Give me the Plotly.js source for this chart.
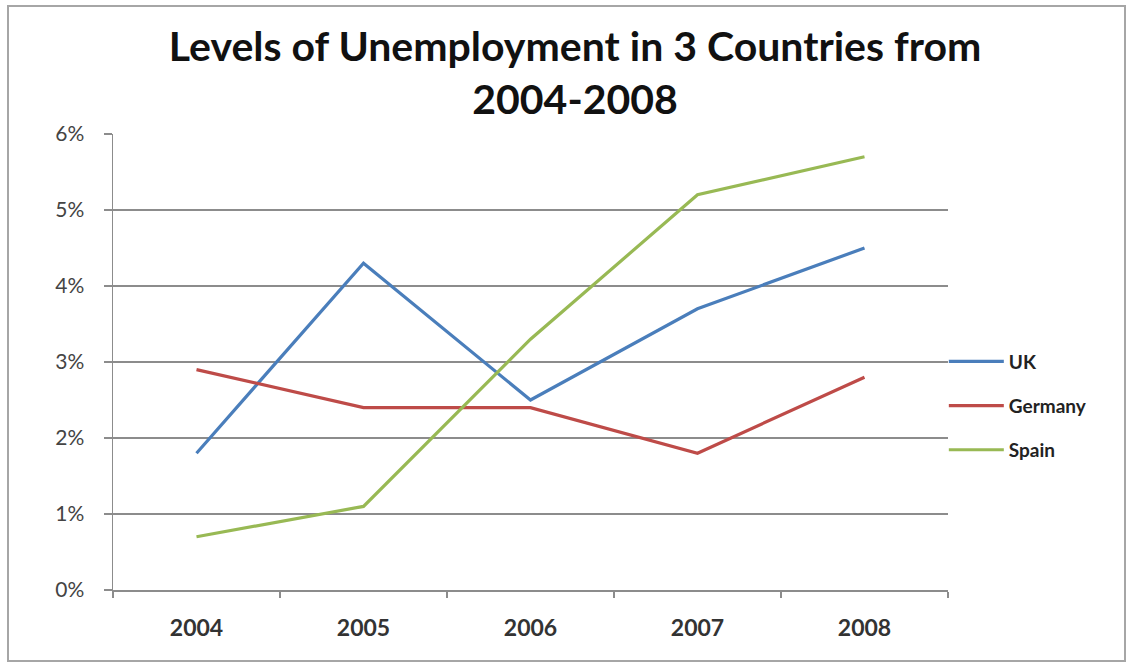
<!DOCTYPE html>
<html>
<head>
<meta charset="utf-8">
<script src="https://cdn.plot.ly/plotly-3.0.1.min.js"></script>
<style>
html,body{margin:0;padding:0;background:#fff;}
#chart{width:1132px;height:664px;}
</style>
</head>
<body>
<div id="chart"></div>
<script>
const years = ['2004', '2005', '2006', '2007', '2008'];
const uk = [1.8, 4.3, 2.5, 3.7, 4.5];
const germany = [2.9, 2.4, 2.4, 1.8, 2.8];
const spain = [0.7, 1.1, 3.3, 5.2, 5.7];
const seriesNames = ['UK', 'Germany', 'Spain'];
const colors = ['#4a7ebb', '#be4b48', '#98b954'];
const seriesValues = [uk, germany, spain];

const traces = seriesValues.map((vals, i) => ({
  type: 'scatter',
  mode: 'lines',
  x: years,
  y: vals,
  name: seriesNames[i],
  legendgroup: 'g' + i,
  line: {color: colors[i], width: 3.2}
}));

const layout = {
  width: 1132,
  height: 664,
  margin: {l: 113, r: 184, t: 134, b: 74},
  paper_bgcolor: '#ffffff',
  plot_bgcolor: '#ffffff',
  font: {family: 'Lato, "Open Sans", sans-serif', color: '#333333'},
  title: {
    text: 'Levels of Unemployment in 3 Countries from<br>2004-2008',
    font: {family: 'Lato, "Open Sans", sans-serif', size: 41, color: '#111111', weight: 'bold'},
    x: 0.508,
    xanchor: 'center',
    yref: 'container',
    y: 1 - 61 / 664,
    yanchor: 'middle'
  },
  xaxis: {
    type: 'category',
    range: [-0.5, 4.5],
    tickson: 'boundaries',
    ticks: 'outside',
    ticklen: 6,
    tickcolor: '#8c8c8c',
    tickwidth: 1.5,
    showline: true,
    linecolor: '#8c8c8c',
    linewidth: 1.5,
    showgrid: false,
    tickfont: {size: 23, color: '#333333', weight: 'bold'},
    ticklabelstandoff: 17
  },
  yaxis: {
    range: [0, 6],
    dtick: 1,
    ticksuffix: '%',
    ticks: 'outside',
    ticklen: 8,
    tickcolor: '#8c8c8c',
    tickwidth: 1.5,
    showline: true,
    linecolor: '#8c8c8c',
    linewidth: 1.5,
    showgrid: true,
    gridcolor: '#8c8c8c',
    gridwidth: 1.5,
    zeroline: false,
    tickfont: {size: 21, color: '#444444'},
    ticklabelstandoff: 15
  },
  legend: {
    x: 0.995,
    xanchor: 'left',
    y: (590 - 406) / 456,
    yanchor: 'middle',
    tracegroupgap: 16.5,
    itemwidth: 55,
    font: {size: 19, color: '#222222', weight: 'bold'},
    bgcolor: 'rgba(0,0,0,0)'
  },
  showlegend: true,
  shapes: [{
    type: 'rect',
    xref: 'paper', yref: 'paper',
    x0: (8 - 113) / 835, x1: (1125 - 113) / 835,
    y0: (590 - 661) / 456, y1: (590 - 6) / 456,
    line: {color: '#a6a6a6', width: 2},
    fillcolor: 'rgba(0,0,0,0)',
    layer: 'below'
  }]
};

Plotly.newPlot('chart', traces, layout, {displayModeBar: false, staticPlot: true});
</script>
</body>
</html>
